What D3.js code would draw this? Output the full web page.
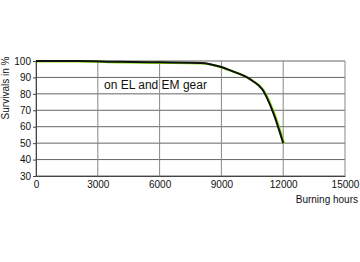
<!DOCTYPE html>
<html>
<head>
<meta charset="utf-8">
<script src="https://cdn.jsdelivr.net/npm/d3@7"></script>
<style>
  body { margin: 0; background: #fff; }
  text { font-family: "Liberation Sans", Arial, sans-serif; fill: #111; }
</style>
</head>
<body>
<div id="chart"></div>
<script>
// survival curve
const hours     = [0, 2000, 4000, 6000, 8000, 9000, 9500, 10000, 10500, 11000, 11500, 12000];
const survivals = [100, 100, 99.5, 99.2, 98.8, 96.3, 94, 91.5, 88, 82.5, 69, 50];
const xTicks = [0, 3000, 6000, 9000, 12000, 15000];
const yTicks = [30, 40, 50, 60, 70, 80, 90, 100];

const W = 360, H = 262;
const margin = { top: 61, right: 15, bottom: 86, left: 36 };
const width = W - margin.left - margin.right,
  height = H - margin.top - margin.bottom;

const svg = d3.select("#chart").append("svg")
  .attr("width", W).attr("height", H);
const g = svg.append("g")
  .attr("transform", `translate(${margin.left},${margin.top})`);

const x = d3.scaleLinear().domain([0, 15000]).range([0, width]);
const y = d3.scaleLinear().domain([30, 100]).range([height, 0]);

// grid
g.selectAll(".hgrid").data(yTicks).enter().append("line")
  .attr("x1", 0).attr("x2", width)
  .attr("y1", d => y(d)).attr("y2", d => y(d))
  .attr("stroke", "#666").attr("stroke-width", 1);
g.selectAll(".vgrid").data(xTicks).enter().append("line")
  .attr("x1", d => x(d)).attr("x2", d => x(d))
  .attr("y1", 0).attr("y2", height)
  .attr("stroke", "#888").attr("stroke-width", 1);

// axes
const yAxis = g.append("g")
  .call(d3.axisLeft(y).tickValues(yTicks).tickSize(3).tickPadding(2));
const xAxis = g.append("g")
  .attr("transform", `translate(0,${height})`)
  .call(d3.axisBottom(x).tickValues(xTicks).tickSize(0).tickPadding(5).tickFormat(d3.format("d")));
[yAxis, xAxis].forEach(a => {
  a.select(".domain").attr("stroke", "#444");
  a.selectAll("line").attr("stroke", "#444");
  a.selectAll("text").attr("font-size", "10px").attr("fill", "#111")
    .attr("font-family", "'Liberation Sans', Arial, sans-serif");
});

// curve: green edge under the black line
const pts = hours.map((h, i) => [h, survivals[i]]);
const line = d3.line().x(d => x(d[0])).y(d => y(d[1])).curve(d3.curveMonotoneX);
g.append("path").datum(pts)
  .attr("d", line).attr("fill", "none")
  .attr("stroke", "#7ee000").attr("stroke-width", 2.2)
  .attr("transform", "translate(1,0.5)");
g.append("path").datum(pts)
  .attr("d", line).attr("fill", "none")
  .attr("stroke", "#111").attr("stroke-width", 2);

// labels
g.append("text")
  .attr("x", x(3300)).attr("y", y(83))
  .attr("font-size", "12px")
  .text("on EL and EM gear");

svg.append("text")
  .attr("transform", `translate(9,${margin.top + 27}) rotate(-90)`)
  .attr("text-anchor", "middle")
  .attr("font-size", "10px")
  .text("Survivals in %");

svg.append("text")
  .attr("x", 358).attr("y", margin.top + height + 27)
  .attr("text-anchor", "end")
  .attr("font-size", "10px")
  .text("Burning hours");
</script>
</body>
</html>
